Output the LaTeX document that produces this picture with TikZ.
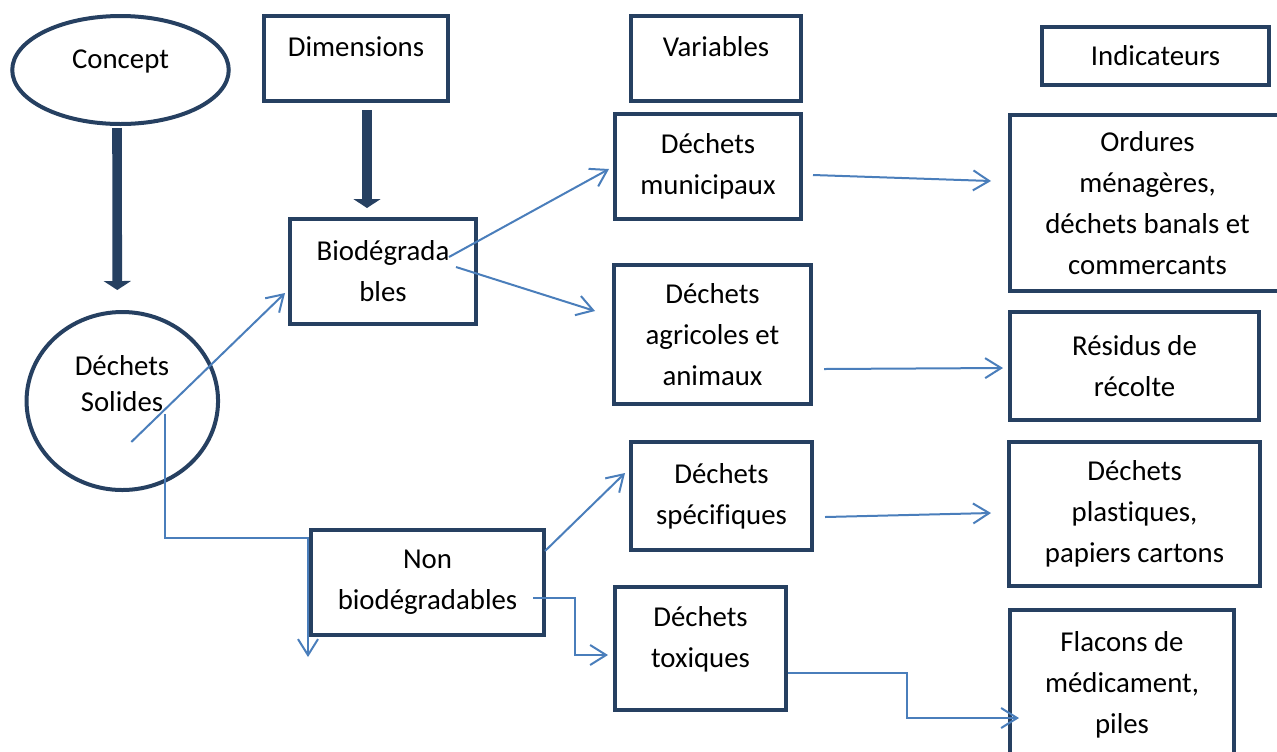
\documentclass[tikz,border=0pt]{standalone}
\usepackage{fontspec}
\setmainfont[Ligatures=NoCommon]{Carlito}
\usetikzlibrary{arrows.meta,shapes.geometric}
\definecolor{darkframe}{RGB}{38,64,97}
\definecolor{arrowblue}{RGB}{74,126,187}
\begin{document}
\begin{tikzpicture}[x=0.5pt, y=-0.5pt,
        font=\fontsize{14.4}{20.5}\selectfont,
        box/.style={draw=darkframe, line width=2pt, align=center, inner sep=0pt},
        oval/.style={box, ellipse},
        txt/.style={align=center, inner sep=0pt},
        link/.style={arrowblue, line width=1pt, -{Straight Barb[length=8pt,width=10pt]}},
        bigarrow/.style={darkframe, line width=4.8pt, -{Triangle[width=13.5pt,length=4.5pt]}}]
        \useasboundingbox (0,0) rectangle (1277,751);
        % column heads
        \node[oval, minimum width=108.25pt, minimum height=54pt] (concept) at (120.5,70) {};
        \node[txt] (conceptTxt) at (120.5,61) {Concept};
        \node[box, minimum width=92pt, minimum height=42.5pt] (dim) at (356,58.5) {};
        \node[txt] (dimTxt) at (356,47) {Dimensions};
        \node[box, minimum width=85pt, minimum height=42.5pt] (var) at (716,58.5) {};
        \node[txt] (varTxt) at (716,47) {Variables};
        \node[box, minimum width=113.5pt, minimum height=29pt] (ind) at (1155.5,56) {Indicateurs};
        % concept and dimensions
        \node[oval, minimum width=95.75pt, minimum height=89pt] (solides) at (122.3,401) {};
        \node[txt, font=\fontsize{14.4}{18}\selectfont] (solidesTxt) at (122,384) {Déchets\\Solides};
        \node[box, minimum width=93pt, minimum height=52.5pt] (bio) at (383,271.5) {Biodégrada\\bles};
        \node[box, minimum width=116.5pt, minimum height=52.5pt] (non) at (427.5,582.5) {Non\\biodégradables};
        % variables
        \node[box, minimum width=93pt, minimum height=52.5pt] (muni) at (708,166.5) {Déchets\\municipaux};
        \node[box, minimum width=98.5pt, minimum height=69.5pt] (agri) at (712.5,334.5) {Déchets\\agricoles et\\animaux};
        \node[box, minimum width=90.5pt, minimum height=54pt] (spec) at (721.5,496) {Déchets\\spécifiques};
        \node[box, minimum width=85.5pt, minimum height=61.5pt] (tox) at (700.5,648.5) {};
        \node[txt] (toxTxt) at (700.5,639) {Déchets\\toxiques};
        % indicateurs
        \node[box, minimum width=137.5pt, minimum height=88pt] (ord) at (1147.5,203) {Ordures\\ménagères,\\déchets banals et\\commercants};
        \node[box, minimum width=124.5pt, minimum height=54pt] (res) at (1134.5,366) {Résidus de\\récolte};
        \node[box, minimum width=125.5pt, minimum height=72pt] (plast) at (1134.5,514) {Déchets\\plastiques,\\papiers cartons};
        \node[box, minimum width=112pt, minimum height=74.5pt] (flac) at (1122,684.5) {Flacons de\\médicament,\\piles};
        % thick arrows
        \draw[bigarrow] ([shift={(-3.5,2)}]concept.south) -- ([shift={(-5,-20)}]solides.north);
        \draw[bigarrow] ([shift={(11,7)}]dim.south) -- ([shift={(-16,-9)}]bio.north);
        % thin connectors
        \draw[link] ([shift={(9,41)}]solides.center) -- ([shift={(-3,21.5)}]bio.west);
        \draw[link] ([shift={(43,13)}]solides.center) |- ([shift={(-1,-44.5)}]non.west) -- ([shift={(-1,74.5)}]non.west);
        \draw[link] ([shift={(66,-14.5)}]bio.center) -- ([shift={(-4,2.5)}]muni.west);
        \draw[link] ([shift={(73,-4.5)}]bio.center) -- ([shift={(-17,-23.5)}]agri.west);
        \draw[link] ([shift={(10,8.5)}]muni.east) -- ([shift={(-17,-22)}]ord.west);
        \draw[link] ([shift={(11,34.5)}]agri.east) -- ([shift={(-5,2)}]res.west);
        \draw[link] ([shift={(-1,-31.5)}]non.east) -- ([shift={(-4,-23)}]spec.west);
        \draw[link] ([shift={(-13,15.5)}]non.east) -- ++(42,0) |- ([shift={(-5,6.5)}]tox.west);
        \draw[link] ([shift={(11,21)}]spec.east) -- ([shift={(-16,-1)}]plast.west);
        \draw[link] ([shift={(0,24.5)}]tox.east) -- ++(119,0) |- ([shift={(11,33.5)}]flac.west);
    \end{tikzpicture}
\end{document}
